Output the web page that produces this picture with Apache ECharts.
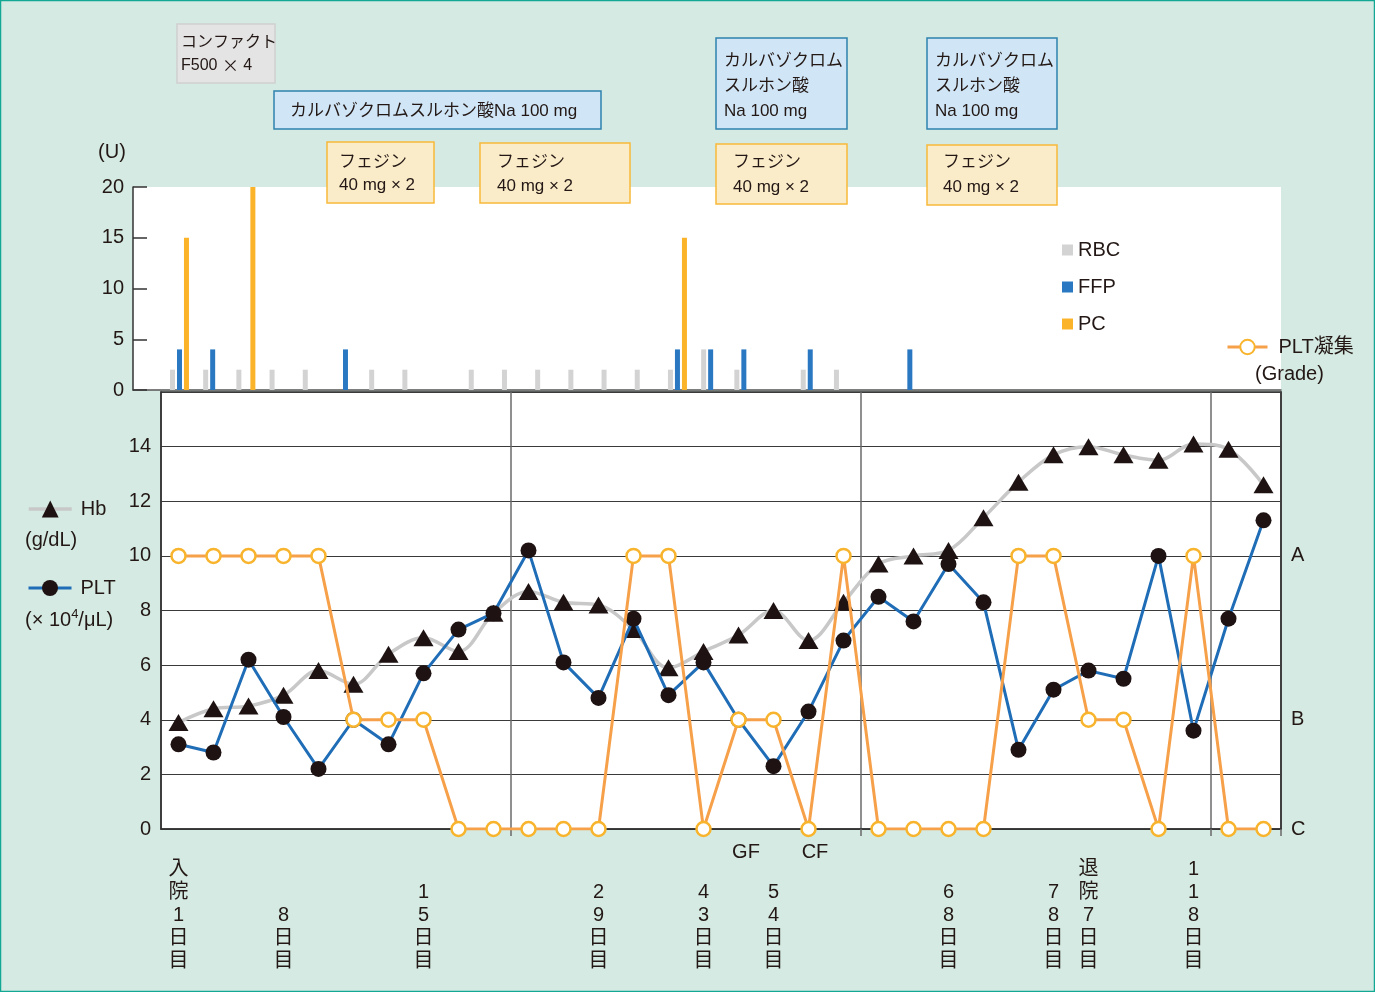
<!DOCTYPE html>
<html><head><meta charset="utf-8">
<script src="https://cdn.jsdelivr.net/npm/echarts@6/dist/echarts.min.js"></script>
<style>html,body{margin:0;padding:0;background:#d4eae2}#c{width:1375px;height:992px}</style>
</head><body><div id="c"></div>
<script>
// ---------------- data ----------------
// Upper panel: transfusion units per slot
const slots = [0,1,2,3,4,5,6,7,8,9,10,11,12,13,14,15,16,17,18,19,20,21,22];
const rbcUnits = [2,2,2,2,2,null,2,2,null,2,2,2,2,2,2,2,4,2,null,2,2,null,null];
const ffpUnits = [4,4,null,null,null,4,null,null,null,null,null,null,null,null,null,4,4,4,null,4,null,null,4];
const pcUnits  = [15,null,20,null,null,null,null,null,null,null,null,null,null,null,null,15,null,null,null,null,null,null,null];
const unitTicks = [0,5,10,15,20];

// Lower panel: lab values per sample
const samples = [1,2,3,4,5,6,7,8,9,10,11,12,13,14,15,16,17,18,19,20,21,22,23,24,25,26,27,28,29,30,31,32];
const dayLabels = ['入院1日目','','','8日目','','','','15日目','','','','','29日目','','','43日目','','54日目','','','','','68日目','','','78日目','退院7日目','','','118日目','',''];
const hb  = [3.9,4.4,4.5,4.9,5.8,5.3,6.4,7.0,6.5,7.9,8.7,8.3,8.2,7.3,5.9,6.5,7.1,8.0,6.9,8.3,9.7,10.0,10.2,11.4,12.7,13.7,14.0,13.7,13.5,14.1,13.9,12.6];
const plt = [3.1,2.8,6.2,4.1,2.2,4.0,3.1,5.7,7.3,7.9,10.2,6.1,4.8,7.7,4.9,6.1,4.0,2.3,4.3,6.9,8.5,7.6,9.7,8.3,2.9,5.1,5.8,5.5,10.0,3.6,7.7,11.3];
const pltAggGrade = ['A','A','A','A','A','B','B','B','C','C','C','C','C','A','A','C','B','B','C','A','C','C','C','C','A','A','B','B','C','A','C','C'];
const gradeLevels = {A:10, B:4, C:0};
const periodStarts = [10,20,30];

// ---------------- style ----------------
const FONT = "'Liberation Sans', Arial, 'Noto Sans CJK JP', sans-serif";
const TXT = '#231815';

const toPairs = arr => slots.map((k,i)=>[k, arr[i]]).filter(p=>p[1]!==null);

function txt(x,y,text,size,align,rich){
  const st = {text:text, fill:TXT, fontSize:size, fontFamily:FONT, align:align||'left', verticalAlign:'middle'};
  if (rich) st.rich = rich;
  return {type:'text', x:x, y:y, z:100, style:st};
}
const bigX = {x:{fontSize:17, fontFamily:"'Noto Sans CJK JP', sans-serif", fill:TXT}};
function box(x,y,w,h,fill,stroke,lines,tx,tys,size){
  const els=[{type:'rect', z:99, shape:{x:x,y:y,width:w,height:h}, style:{fill:fill, stroke:stroke, lineWidth:1.5}}];
  lines.forEach((l,i)=>els.push(txt(tx,tys[i],l,size,'left',bigX)));
  return els;
}
const BLUE_F='#d0e6f6', BLUE_S='#2e82ad', YEL_F='#fbecc9', YEL_S='#f8b93a';

let graphics = [];
graphics = graphics.concat(
  box(177,24,98,59,'#e4e4e4','#d0d0d0',['コンファクト','F500 {x|×} 4'],181,[43,66],16),
  box(274,91,327,38,BLUE_F,BLUE_S,['カルバゾクロムスルホン酸Na 100 mg'],290,[111],17),
  box(327,142,107,61,YEL_F,YEL_S,['フェジン','40 mg × 2'],339,[162,185],17),
  box(480,143,150,60,YEL_F,YEL_S,['フェジン','40 mg × 2'],497,[162,186],17),
  box(716,38,131,91,BLUE_F,BLUE_S,['カルバゾクロム','スルホン酸','Na 100 mg'],724,[61,86,111],17),
  box(716,144,131,60,YEL_F,YEL_S,['フェジン','40 mg × 2'],733,[162,187],17),
  box(927,38,130,91,BLUE_F,BLUE_S,['カルバゾクロム','スルホン酸','Na 100 mg'],935,[61,86,111],17),
  box(927,145,130,60,YEL_F,YEL_S,['フェジン','40 mg × 2'],943,[162,187],17)
);
graphics.push(txt(112,152,'(U)',20,'center'));
graphics.push(txt(25,540,'(g/dL)',20));
graphics.push({type:'text', x:25, y:620, z:100, style:{text:'(× 10{s|4}/μL)', fill:TXT, fontSize:20, fontFamily:FONT, verticalAlign:'middle',
  rich:{s:{fontSize:13, fontFamily:FONT, fill:TXT, verticalAlign:'top', lineHeight:24}}}});
graphics.push(txt(1255,374,'(Grade)',20));
graphics.push(txt(746,852,'GF',20,'center'));
graphics.push(txt(815,852,'CF',20,'center'));
graphics.push({type:'rect', z:101, shape:{x:0.5,y:0.5,width:1374,height:991}, style:{fill:null, stroke:'#13a893', lineWidth:1.5}});

const isPeriod = (i)=>periodStarts.indexOf(i)>=0;
const legendText = {fontSize:20, color:TXT, fontFamily:FONT};

const option = {
  animation:false,
  backgroundColor:'#d4eae2',
  textStyle:{fontFamily:FONT, color:TXT},
  grid:[
    {left:133, top:187, width:1148, height:203, show:true, backgroundColor:'#fff', borderWidth:0, outerBoundsMode:'none'},
    {left:161, top:392, width:1120, height:437, show:true, backgroundColor:'#fff', borderColor:'#333', borderWidth:1.5, outerBoundsMode:'none'}
  ],
  xAxis:[
    {gridIndex:0, type:'value', min:-1.4, max:33.18, axisLine:{show:true, onZero:false, lineStyle:{color:'#555', width:1.5}},
     axisTick:{show:false}, axisLabel:{show:false}, splitLine:{show:false}},
    {gridIndex:1, type:'category', data:samples, boundaryGap:true,
     axisLine:{show:true, onZero:false, lineStyle:{color:'#333', width:1.5}},
     axisTick:{show:true, interval:isPeriod, length:7, lineStyle:{color:'#6a6a6a', width:1.5}},
     splitLine:{show:true, interval:isPeriod, lineStyle:{color:'#6a6a6a', width:1.5}},
     axisLabel:{interval:0, fontSize:20, lineHeight:23, margin:29, color:TXT, fontFamily:FONT,
       formatter:function(v,i){const s=dayLabels[i]; if(!s) return ''; const c=Array.from(s); while(c.length<5) c.unshift(' '); return c.join('\n');}}}
  ],
  yAxis:[
    {gridIndex:0, type:'value', min:0, max:20, interval:5,
     axisLine:{show:true, onZero:false, lineStyle:{color:'#333', width:1.5}},
     axisTick:{show:true, inside:true, length:14, lineStyle:{color:'#333', width:1.5}},
     axisLabel:{fontSize:20, margin:9, color:TXT, fontFamily:FONT, formatter:v=>unitTicks.indexOf(v)>=0?String(v):''},
     splitLine:{show:false}},
    {gridIndex:1, type:'value', min:0, max:16, interval:2,
     axisLine:{show:true, onZero:false, lineStyle:{color:'#333', width:1.5}}, axisTick:{show:false},
     axisLabel:{fontSize:20, margin:10, color:TXT, fontFamily:FONT, formatter:v=>v===16?'':String(v)},
     splitLine:{show:true, lineStyle:{color:'#3a3a3a', width:1}}},
    {gridIndex:1, type:'value', position:'right', min:0, max:16, interval:2,
     axisLine:{show:true, onZero:false, lineStyle:{color:'#333', width:1.5}}, axisTick:{show:false},
     axisLabel:{fontSize:20, margin:10, color:TXT, fontFamily:FONT,
       formatter:v=>{for(const g in gradeLevels){ if(gradeLevels[g]===v) return g;} return '';}},
     splitLine:{show:false}}
  ],
  legend:[
    {data:['Hb'], left:27, top:499, padding:0, itemWidth:43, itemHeight:21, lineStyle:{width:3.5},
     textStyle:Object.assign({padding:[0,0,0,4]}, legendText)},
    {data:['PLT'], left:27, top:578, padding:0, itemWidth:43, itemHeight:20, lineStyle:{width:3},
     textStyle:Object.assign({padding:[0,0,0,4]}, legendText)},
    {data:['RBC','FFP','PC'], orient:'vertical', left:1062, top:240, padding:0, itemWidth:11, itemHeight:11, itemGap:17, icon:'rect',
     textStyle:legendText},
    {data:['PLT凝集'], left:1226, top:337, padding:0, itemWidth:40, itemHeight:18, lineStyle:{width:3},
     textStyle:Object.assign({padding:[0,0,0,6]}, legendText)}
  ],
  graphic:graphics,
  series:[
    {name:'RBC', type:'bar', xAxisIndex:0, yAxisIndex:0, data:toPairs(rbcUnits), barWidth:5, barGap:'40%', itemStyle:{color:'#d3d3d3'}},
    {name:'FFP', type:'bar', xAxisIndex:0, yAxisIndex:0, data:toPairs(ffpUnits), barWidth:5, barGap:'40%', itemStyle:{color:'#2a78c2'}},
    {name:'PC',  type:'bar', xAxisIndex:0, yAxisIndex:0, data:toPairs(pcUnits),  barWidth:5, barGap:'40%', itemStyle:{color:'#fbb42a'}},
    {name:'Hb', type:'line', xAxisIndex:1, yAxisIndex:1, data:hb, smooth:0.35, symbol:'triangle', symbolSize:[20,17],
     lineStyle:{color:'#c8c8c8', width:3.5}, itemStyle:{color:'#1e1212'}, z:2},
    {name:'PLT', type:'line', xAxisIndex:1, yAxisIndex:1, data:plt, symbol:'circle', symbolSize:16,
     lineStyle:{color:'#1f6db6', width:3}, itemStyle:{color:'#1e1212'}, z:3},
    {name:'PLT凝集', type:'line', xAxisIndex:1, yAxisIndex:2, data:pltAggGrade.map(g=>gradeLevels[g]), symbol:'circle', symbolSize:14,
     lineStyle:{color:'#f7a04a', width:3}, itemStyle:{color:'#fff', borderColor:'#f8b42c', borderWidth:2.5}, z:4}
  ]
};
const chart = echarts.init(document.getElementById('c'));
chart.setOption(option);
</script></body></html>
